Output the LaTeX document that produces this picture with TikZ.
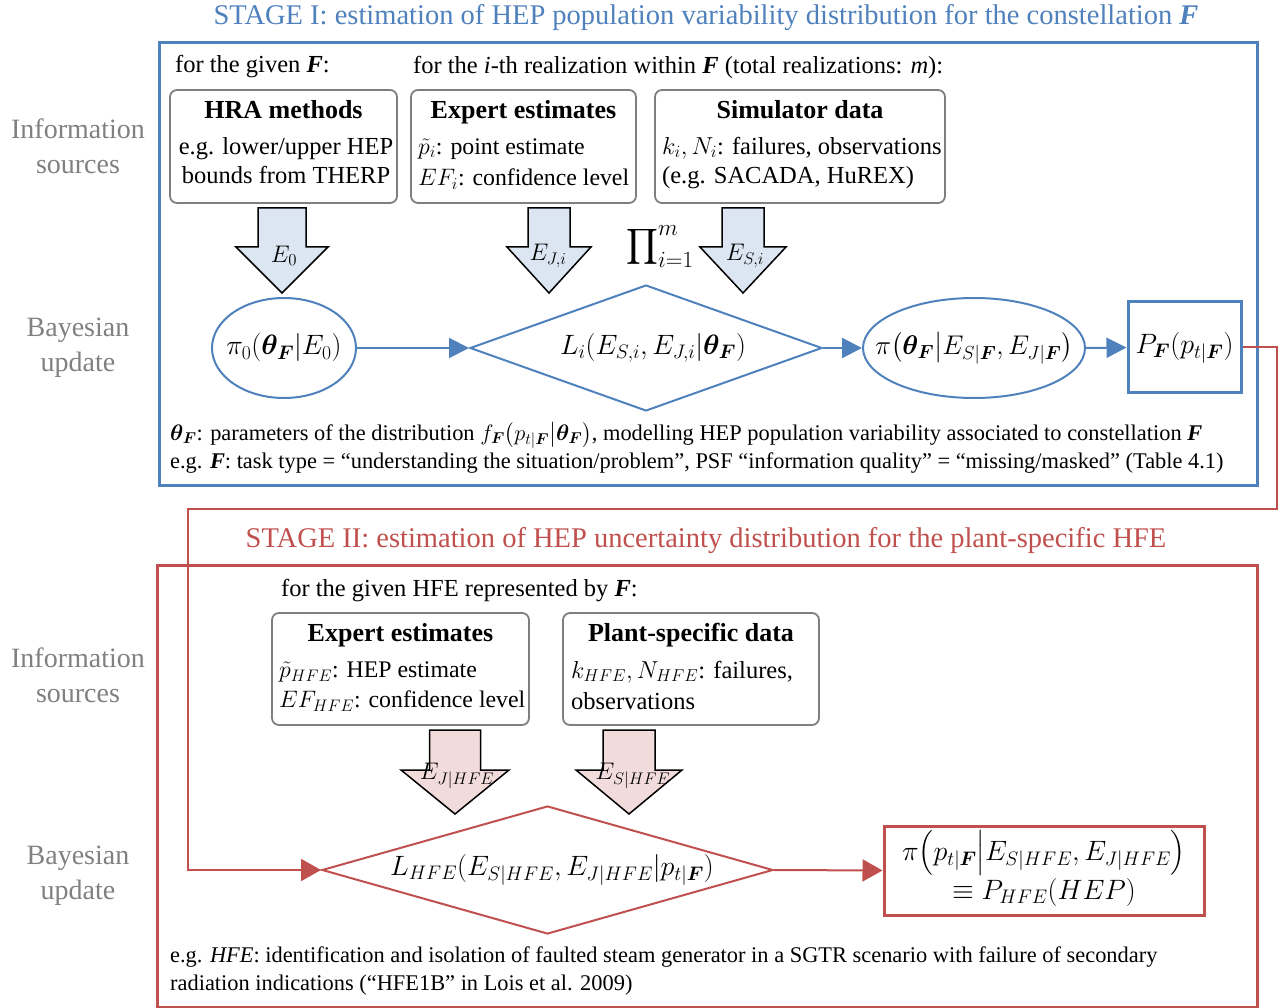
\RequirePackage{fix-cm}
\documentclass[tikz,border=0pt]{standalone}
\usepackage{amsmath}
\usepackage{bm}
\usepackage{fontspec}
\setmainfont{Liberation Serif}
\usetikzlibrary{shapes.geometric,arrows.meta}

\definecolor{stageblue}{HTML}{4F81BD}
\definecolor{stagered}{HTML}{C0504D}
\definecolor{boxgray}{HTML}{7F7F7F}
\definecolor{sidegray}{HTML}{808080}
\definecolor{bluefill}{HTML}{DCE6F2}
\definecolor{redfill}{HTML}{F2DCDB}

\newcommand{\fs}[2]{\fontsize{#1}{#2}\selectfont}
\newcommand{\bF}{\bm{F}}
\newcommand{\tF}{\textbf{\textit{F}}}

% block arrow pointing down: fill, centre x, top y, shaft half width, head half width, head base y, tip y
\newcommand{\blockarrow}[7]{%
  \filldraw[fill=#1, draw=black, line width=1.5pt, line join=miter]
    ({#2-#4},#3) -- ({#2+#4},#3) -- ({#2+#4},#6) -- ({#2+#5},#6) -- (#2,#7)
    -- ({#2-#5},#6) -- ({#2-#4},#6) -- cycle;}

\tikzset{
  srcbox/.style={draw=boxgray, line width=1.8pt, rounded corners=7pt, inner sep=0pt},
  boxtitle/.style={font=\fs{26}{31}\bfseries, inner sep=0pt, anchor=base},
  boxline/.style={font=\fs{24.5}{29}, anchor=west, inner sep=0pt},
  mathline/.style={font=\fs{23.8}{29}, anchor=west, inner sep=0pt},
  heading/.style={font=\fs{28.5}{33}, inner sep=0pt},
  sidelabel/.style={font=\fs{28}{35}, text=sidegray, align=center, inner sep=0pt},
  note/.style={font=\fs{22.4}{26}, anchor=west, inner sep=0pt},
  mtext/.style={font=\fs{28}{33}, inner sep=0pt},
  blueshape/.style={draw=stageblue, line width=2pt, inner sep=0pt},
  redshape/.style={draw=stagered, line width=2pt, inner sep=0pt},
  blueflow/.style={draw=stageblue, line width=2pt, -{Triangle[length=20pt,width=20pt]}},
  redflow/.style={draw=stagered, line width=2pt, -{Triangle[length=20pt,width=22pt]}},
  lab/.style={font=\fs{24}{28}, inner sep=0pt},
}

\begin{document}
\begin{tikzpicture}[x=1pt,y=-1pt]
\useasboundingbox (0,0) rectangle (1278,1008);

% ---------------- Stage I ----------------
\node[heading, text=stageblue] (head1) at (706,18)
  {STAGE I: estimation of HEP population variability distribution for the constellation \tF};
\draw[stageblue, line width=3pt] (159,43) rectangle (1257,485);

\node[sidelabel] (info1) at (78,146) {Information\\sources};
\node[sidelabel] (bayes1) at (78,348) {Bayesian\\update};

\node[boxline] (given1) at (175,67) {for the given \tF:};
\node[boxline] (ith) at (413,67) {for the \textit{i}-th realization within \tF\ (total realizations: \textit{m}):};

% information sources
\node[srcbox, minimum width=227pt, minimum height=113pt] (hra) at (283.5,146.5) {};
\node[boxtitle] (hraT) at (283.5,119) {HRA methods};
\node[font=\fs{24.5}{29}, align=center, inner sep=0pt] (hraL) at (286,161) {e.g. lower/upper HEP\\bounds from THERP};

\node[srcbox, minimum width=225pt, minimum height=113pt] (exp1) at (523.5,146.5) {};
\node[boxtitle] (exp1T) at (523.5,119) {Expert estimates};
\node[mathline] (exp1a) at (418,149) {$\tilde{p}_i$: point estimate};
\node[mathline] (exp1b) at (418,179) {$EF_i$: confidence level};

\node[srcbox, minimum width=290pt, minimum height=113pt] (sim) at (800,146.5) {};
\node[boxtitle] (simT) at (800,119) {Simulator data};
\node[boxline] (sima) at (662,148) {$k_i,N_i$: failures, observations};
\node[boxline] (simb) at (662,178) {(e.g. SACADA, HuREX)};

% evidence arrows
\blockarrow{bluefill}{282}{208}{24}{46}{247}{293}
\blockarrow{bluefill}{549}{208}{21}{42}{247}{293}
\blockarrow{bluefill}{743}{208}{21}{43}{247}{293}
\node[lab] (e0) at (284,256) {$E_0$};
\node[lab] (eji) at (548,256) {$E_{J,i}$};
\node[lab] (esi) at (745,256) {$E_{S,i}$};
\node[font=\fs{33}{38}, inner sep=0pt] (prod) at (660,247) {$\displaystyle\prod\nolimits_{i=1}^{m}$};

% Bayesian update
\node[blueshape, ellipse, minimum width=144pt, minimum height=100pt] (prior) at (284,348) {};
\node[mtext] (priorT) at (284,348) {$\pi_0(\bm{\theta}_{\bF}|E_0)$};
\node[blueshape, diamond, minimum width=352pt, minimum height=126pt] (lik) at (646,348) {};
\node[mtext] (likT) at (653,348) {$L_i(E_{S,i},E_{J,i}|\bm{\theta}_{\bF})$};
\node[blueshape, ellipse, minimum width=222pt, minimum height=100pt] (post) at (974,348) {};
\node[mtext, font=\fs{27}{32}] (postT) at (974,348) {$\pi\bigl(\bm{\theta}_{\bF}\big|E_{S|\bF},E_{J|\bF}\bigr)$};
\node[draw=stageblue, line width=3pt, minimum width=113pt, minimum height=91pt, inner sep=0pt] (pf) at (1184.5,347.5) {};
\node[mtext] (pfT) at (1184.5,348) {$P_{\bF}(p_{t|\bF})$};

\draw[blueflow] (prior.east) -- (lik.west);
\draw[blueflow] (lik.east) -- (post.west);
\draw[blueflow] (post.east) -- (pf.west);

\node[note] (theta) at (170,435) {$\bm{\theta}_{\bF}$: parameters of the distribution $f_{\bF}\bigl(p_{t|\bF}\big|\bm{\theta}_{\bF}\bigr)$, modelling HEP population variability associated to constellation \tF};
\node[note] (eg1) at (170,463) {e.g. \tF: task type = “understanding the situation/problem”, PSF “information quality” = “missing/masked” (Table 4.1)};

% ---------------- Stage II ----------------
\node[heading, text=stagered] (head2) at (706,541)
  {STAGE II: estimation of HEP uncertainty distribution for the plant-specific HFE};
\draw[stagered, line width=3pt] (157,565) rectangle (1257,1007);

\node[sidelabel] (info2) at (78,675) {Information\\sources};
\node[sidelabel] (bayes2) at (78,876) {Bayesian\\update};

\node[boxline] (given2) at (281,591) {for the given HFE represented by \tF:};

\node[srcbox, minimum width=257pt, minimum height=112pt] (exp2) at (400.5,669) {};
\node[boxtitle] (exp2T) at (400.5,641) {Expert estimates};
\node[mathline] (exp2a) at (279,672) {$\tilde{p}_{HFE}$: HEP estimate};
\node[mathline] (exp2b) at (279,701) {$EF_{HFE}$: confidence level};

\node[srcbox, minimum width=256pt, minimum height=112pt] (plant) at (691,669) {};
\node[boxtitle] (plantT) at (691,641) {Plant-specific data};
\node[boxline] (planta) at (571,672) {$k_{HFE},N_{HFE}$: failures,};
\node[boxline] (plantb) at (571,701) {observations};

\blockarrow{redfill}{455}{730}{25.5}{54}{770}{814}
\blockarrow{redfill}{629}{730}{26}{53}{770}{814}
\node[lab] (ejh) at (457,776) {$E_{J|HFE}$};
\node[lab] (esh) at (633,776) {$E_{S|HFE}$};

\node[redshape, diamond, minimum width=451pt, minimum height=128pt] (likh) at (547.5,870) {};
\node[mtext] (likhT) at (552,870) {$L_{HFE}(E_{S|HFE},E_{J|HFE}|p_{t|\bF})$};
\node[draw=stagered, line width=3pt, minimum width=320pt, minimum height=89pt, inner sep=0pt] (res) at (1044,870.5) {};
\node[mtext] (resa) at (1044,853) {$\pi\bigl(p_{t|\bF}\big|E_{S|HFE},E_{J|HFE}\bigr)$};
\node[mtext] (resb) at (1044,892) {$\equiv P_{HFE}(HEP)$};

\draw[redflow] (likh.east) -- (res.west);

% hand-over from stage I to stage II
\coordinate (loopR) at (1277,509);
\coordinate (loopL) at (188,509);
\draw[redflow] (pf.east) -| (loopR) -- (loopL) |- (likh.west);

\node[note] (eg2a) at (170,957) {e.g. \textit{HFE}: identification and isolation of faulted steam generator in a SGTR scenario with failure of secondary};
\node[note] (eg2b) at (170,985) {radiation indications (“HFE1B” in Lois et al. 2009)};

\end{tikzpicture}
\end{document}
